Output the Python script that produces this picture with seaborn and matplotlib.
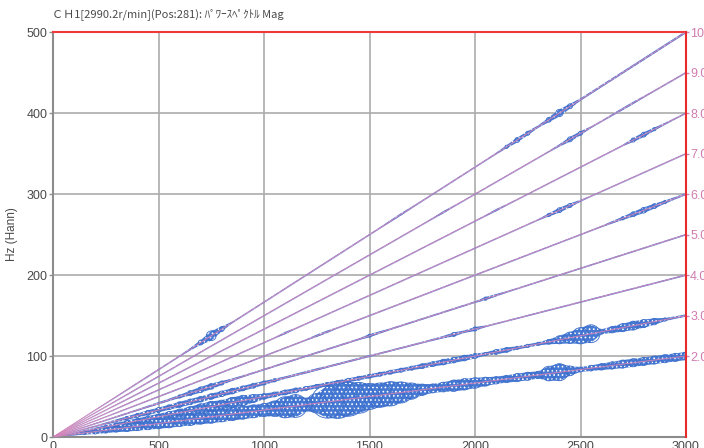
import numpy as np
import pandas as pd
import matplotlib
matplotlib.use("Agg")
import matplotlib.pyplot as plt
import seaborn as sns

# Run-up sampling grid (r/min)
rpm = np.arange(0, 3001, 50)

# Tracked orders and their labels on the right-hand axis
orders = [2, 3, 4, 5, 6, 7, 8, 9, 10]
order_labels = ["2.0", "3.0", "4.0", "5.0", "6.0", "7.0", "8.0", "9.0", "10.0"]

# Axis ticks
x_ticks = [0, 500, 1000, 1500, 2000, 2500, 3000]
y_ticks = [0, 100, 200, 300, 400, 500]

# Spectrum magnitude along each order, one value per rpm sample (Hz half-width)
mag_o2 = [0, 0.5, 1.5, 2, 3, 3.5, 4, 5, 5.5, 6,
          6.5, 7, 7, 7.5, 7.5, 8, 8, 8, 8, 8,
          8, 9.5, 13, 14, 8, 12, 20, 22, 21, 19,
          16, 15, 15, 13, 10, 7, 5.5, 6, 7, 7,
          6.5, 5.5, 4.5, 4.5, 5, 5, 4.5, 9, 10.5, 6,
          3, 3.5, 4, 4.5, 5, 5, 5, 5, 5, 5,
          5]
mag_o3 = [0, 0.3, 0.5, 1, 1.5, 2, 2.5, 3, 3, 3.5,
          3.5, 4, 4.5, 5, 6, 6.5, 5.5, 6.5, 6.5, 5,
          3.5, 3, 3, 3, 2.5, 2.5, 2.5, 2.5, 2.5, 2.5,
          2.5, 2.5, 2.5, 2.5, 2.5, 3, 3, 3.5, 3.5, 3.5,
          3, 2, 3, 3, 2, 2, 2, 3, 5, 7,
          10, 11, 3, 4, 5, 5.5, 5, 4, 2, 1.5,
          1.5]
mag_o4 = [0, 0.2, 0.3, 0.5, 0.8, 1.2, 1.8, 2.2, 2.5, 3,
          3, 3, 3.5, 3.5, 3.5, 3.5, 3.5, 3.5, 3, 3,
          2.5, 2, 1.5, 1.5, 1.5, 1.5, 1.2, 1.2, 1.2, 1.2,
          1.2, 1, 1, 1, 1, 1, 1.2, 1.5, 2.5, 1.5,
          2.5, 1, 0.8, 0.8, 0.8, 0.8, 0.8, 0.8, 0.8, 0.8,
          0.8, 0.8, 0.8, 0.8, 0.8, 0.8, 0.8, 0.8, 0.8, 0.8,
          0.8]
mag_o5 = [0, 0.2, 0.3, 0.4, 0.5, 0.6, 0.8, 1, 1, 1.2,
          1.5, 1.5, 2, 3, 3.5, 3.5, 2.5, 1.5, 1.2, 1,
          1, 1, 1, 1, 1, 1, 1, 1, 1, 1,
          2, 1.5, 1, 1, 1, 1, 1, 1, 1, 1,
          1, 2, 1.5, 1, 0.8, 0.8, 0.8, 0.8, 0.8, 0.8,
          0.8, 0.8, 0.8, 0.8, 0.8, 0.8, 0.8, 0.8, 0.8, 0.8,
          0.8]
mag_o6 = [0, 0, 0.2, 0.2, 0.3, 0.3, 0.4, 0.5, 0.5, 0.6,
          0.7, 0.7, 0.7, 0.7, 0.7, 0.7, 0.7, 0.7, 0.7, 0.7,
          0.7, 0.7, 0.7, 0.7, 0.7, 1.5, 1.5, 0.7, 0.7, 0.7,
          0.7, 0.7, 0.7, 0.7, 0.7, 0.7, 0.7, 0.7, 0.7, 0.7,
          0.7, 0.7, 0.7, 0.7, 0.7, 0.7, 0.7, 0.7, 0.7, 0.7,
          0.7, 0.7, 0.8, 1.5, 2, 3, 3.5, 3, 2, 1.5,
          1.2]
mag_o7 = [0, 0, 0.2, 0.2, 0.3, 0.3, 0.4, 0.5, 0.5, 0.6,
          0.6, 0.6, 0.6, 0.6, 0.6, 0.6, 0.6, 0.6, 0.6, 0.6,
          0.6, 0.6, 1.5, 0.6, 0.6, 0.6, 0.6, 0.6, 0.6, 0.6,
          0.6, 0.6, 0.6, 0.6, 0.6, 0.6, 0.6, 0.6, 0.6, 0.6,
          0.6, 0.6, 0.6, 0.6, 0.6, 0.6, 0.8, 2, 3, 2.5,
          1.2, 0.6, 0.6, 0.6, 0.6, 0.6, 0.6, 0.6, 0.6, 0.6,
          0.6]
mag_o8 = [0, 0, 0.2, 0.2, 0.3, 0.3, 0.4, 0.5, 0.5, 0.6,
          0.6, 0.6, 0.6, 0.6, 0.6, 0.6, 0.6, 0.6, 0.6, 0.6,
          0.6, 0.6, 0.6, 0.6, 0.6, 0.6, 0.6, 0.6, 0.6, 0.6,
          0.6, 0.6, 0.6, 0.6, 0.6, 0.6, 0.6, 0.6, 0.6, 0.6,
          0.6, 0.8, 1.5, 0.8, 0.6, 0.6, 0.6, 0.6, 0.6, 0.6,
          0.6, 0.6, 0.6, 0.6, 0.8, 2.5, 3, 2, 1.2, 0.8,
          0.8]
mag_o9 = [0, 0, 0.2, 0.2, 0.3, 0.3, 0.4, 0.5, 0.5, 0.6,
          0.6, 0.6, 0.6, 0.6, 0.6, 0.6, 0.6, 0.6, 0.6, 0.6,
          0.6, 0.6, 0.6, 0.6, 0.6, 0.6, 0.6, 0.6, 0.6, 0.6,
          0.6, 0.6, 0.6, 0.6, 0.6, 0.6, 0.8, 1.5, 0.8, 0.6,
          0.6, 0.6, 0.6, 0.6, 0.6, 0.6, 0.6, 0.8, 1.5, 3,
          2.5, 1, 0.8, 1.2, 1.5, 1.5, 1, 0.8, 0.8, 0.8,
          0.8]
mag_o10 = [0, 0, 0.2, 0.2, 0.3, 0.4, 0.5, 0.6, 0.7, 0.8,
           0.8, 0.8, 0.8, 1.5, 3, 6, 3, 1, 0.8, 0.8,
           0.8, 0.8, 0.8, 0.8, 0.8, 0.8, 0.8, 0.8, 0.8, 0.8,
           0.8, 0.8, 1.2, 1.5, 1, 0.8, 0.8, 0.8, 0.8, 0.8,
           0.8, 0.8, 1, 2, 3, 2.5, 1.5, 3, 4.5, 3,
           1.5, 1.5, 1.5, 1.5, 1.5, 1.5, 1.5, 1.5, 1.5, 1.5,
           1.5]

mags = [mag_o2, mag_o3, mag_o4, mag_o5, mag_o6, mag_o7, mag_o8, mag_o9, mag_o10]

title = "ＣＨ1[2990.2r/min](Pos:281): ﾊﾟﾜｰｽﾍﾟｸﾄﾙ Mag"

# Long-form table: centre frequency of each order at each speed
frames = []
for k, m in zip(orders, mags):
    frames.append(pd.DataFrame({"rpm": rpm, "order": k,
                                "hz": k * rpm / 60.0, "mag": m}))
spec = pd.concat(frames, ignore_index=True)

# Straight order lines from the origin to the right edge
lines = pd.DataFrame({"rpm": np.tile([x_ticks[0], x_ticks[-1]], len(orders)),
                      "order": np.repeat(orders, 2)})
lines["hz"] = lines["order"] * lines["rpm"] / 60.0

sns.set_theme(style="white")
plt.rcParams["font.family"] = ["Liberation Sans Narrow", "Liberation Sans", "DejaVu Sans"]
plt.rcParams["hatch.linewidth"] = 0.7

BLUE = "#4679d3"
CORE = "#6f74cc"
RING = "#3a6cc9"
PINK = "#d184b8"
GRID = "#ababab"
TXT = "#4a4a4a"

fig = plt.figure(figsize=(7.04, 4.48), dpi=100)
ax = fig.add_axes([53 / 704, 11 / 448, 633 / 704, 405 / 448])
ax.set_xlim(0, 3000)
ax.set_ylim(0, 500)

# Grid
for xv in x_ticks[1:-1]:
    ax.axvline(xv, color=GRID, lw=1.2, zorder=0)
for yv in y_ticks[1:-1]:
    ax.axhline(yv, color=GRID, lw=1.2, zorder=0)

# Magnitude bands around each order: hatched body plus a faint narrow core
for k, sub in spec.groupby("order"):
    ax.fill_between(sub["rpm"], sub["hz"] - sub["mag"], sub["hz"] + sub["mag"],
                    facecolor=BLUE, edgecolor="white", hatch="....",
                    linewidth=0, zorder=2)
    core = np.minimum(sub["mag"], 0.5)
    ax.fill_between(sub["rpm"], sub["hz"] - core, sub["hz"] + core,
                    facecolor=CORE, linewidth=0, alpha=0.6, zorder=2.5)

# Ring markers where the magnitude is large
fig.canvas.draw()
px_per_hz = ax.transData.transform((0, 1))[1] - ax.transData.transform((0, 0))[1]
rings = spec[spec["mag"] >= 2].copy()
diam_pt = 2 * rings["mag"] * px_per_hz * 72.0 / fig.dpi
sns.scatterplot(data=rings, x="rpm", y="hz", s=diam_pt ** 2, marker="o",
                facecolor="none", edgecolor=RING, linewidth=0.6,
                legend=False, ax=ax, zorder=3)

# Order lines
sns.lineplot(data=lines, x="rpm", y="hz", units="order", estimator=None,
             color=PINK, lw=0.65, legend=False, ax=ax, zorder=4)

# Left / bottom axes
ax.set_xticks(x_ticks)
ax.set_yticks(y_ticks)
ax.set_xlabel("")
ax.set_ylabel("Hz (Hann)", fontsize=8.5, color=TXT)
ax.yaxis.set_label_coords(-(53 - 18) / 633, 0.5)
ax.tick_params(axis="both", direction="out", length=3, width=1, color="#909090",
               labelsize=9, labelcolor=TXT, pad=1)
ax.tick_params(axis="x", length=2, pad=1)
for side in ("left", "bottom"):
    ax.spines[side].set_color("#8c8c8c")
    ax.spines[side].set_linewidth(1.5)
ax.spines["top"].set_color("#f03a3a")
ax.spines["top"].set_linewidth(1.5)
ax.spines["right"].set_visible(False)

# Right axis with order labels
ax2 = ax.twinx()
ax2.set_ylim(0, 500)
ax2.set_yticks([50 * k for k in orders])
ax2.set_yticklabels(order_labels)
ax2.tick_params(axis="y", direction="out", length=2, width=1, color=PINK,
                labelsize=9, labelcolor="#d07cb0", pad=1)
for side in ("left", "bottom", "top"):
    ax2.spines[side].set_visible(False)
ax2.spines["right"].set_color("#e82a2a")
ax2.spines["right"].set_linewidth(1.5)

fig.text(52 / 704, 1 - 14 / 448, title, fontsize=8, color=TXT, va="center",
         ha="left", family=["Noto Sans CJK JP", "DejaVu Sans"])

fig.savefig("out.png", dpi=100)
